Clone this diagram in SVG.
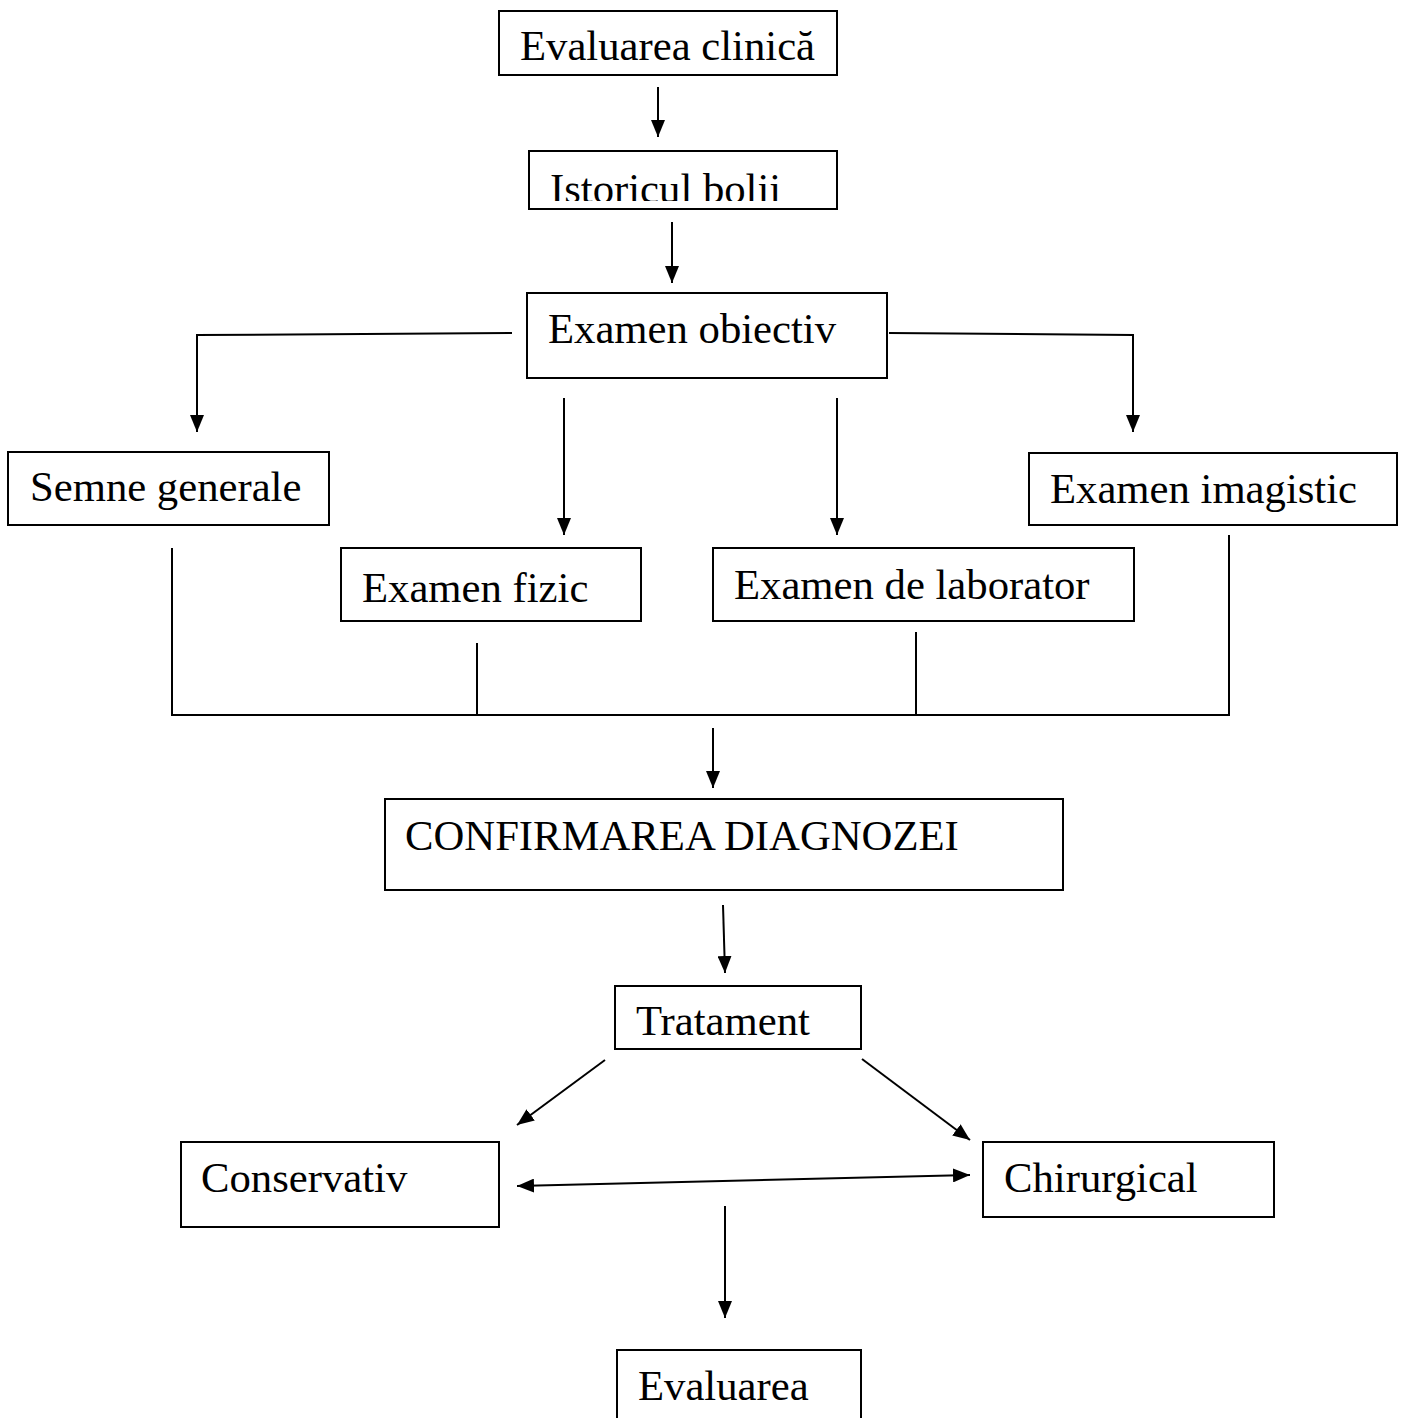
<svg xmlns="http://www.w3.org/2000/svg" width="1405" height="1418" viewBox="0 0 1405 1418">
<style>
.box{fill:#fff;stroke:#000;stroke-width:2}
.t{font-family:"Liberation Serif","Times New Roman",serif;font-size:42.7px;fill:#000}
.c{stroke:#000;stroke-width:2;fill:none}
</style>
<defs>
<marker id="ah" viewBox="0 0 17 14" refX="17" refY="7" markerWidth="17" markerHeight="14" markerUnits="userSpaceOnUse" orient="auto-start-reverse">
<path d="M0,0 L17,7 L0,14 z" fill="#000"/>
</marker>
<clipPath id="clipIst"><rect x="529" y="151" width="308" height="50"/></clipPath>
</defs>
<rect width="1405" height="1418" fill="#fff"/>
<g id="connectors">
<line class="c" x1="658" y1="87" x2="658" y2="137" marker-end="url(#ah)"/>
<line class="c" x1="672" y1="222" x2="672" y2="283" marker-end="url(#ah)"/>
<polyline class="c" points="512,333 197,335 197,432" marker-end="url(#ah)"/>
<polyline class="c" points="889,333 1133,335 1133,432" marker-end="url(#ah)"/>
<line class="c" x1="564" y1="398" x2="564" y2="535" marker-end="url(#ah)"/>
<line class="c" x1="837" y1="398" x2="837" y2="535" marker-end="url(#ah)"/>
<line class="c" x1="172" y1="548" x2="172" y2="715"/>
<line class="c" x1="477" y1="643" x2="477" y2="715"/>
<line class="c" x1="916" y1="632" x2="916" y2="715"/>
<line class="c" x1="1229" y1="535" x2="1229" y2="715"/>
<line class="c" x1="171" y1="715" x2="1230" y2="715"/>
<line class="c" x1="713" y1="728" x2="713" y2="788" marker-end="url(#ah)"/>
<line class="c" x1="723" y1="905" x2="725" y2="973" marker-end="url(#ah)"/>
<line class="c" x1="605" y1="1060" x2="517" y2="1125" marker-end="url(#ah)"/>
<line class="c" x1="862" y1="1059" x2="970" y2="1140" marker-end="url(#ah)"/>
<line class="c" x1="517" y1="1186" x2="970" y2="1175" marker-start="url(#ah)" marker-end="url(#ah)"/>
<line class="c" x1="725" y1="1206" x2="725" y2="1318" marker-end="url(#ah)"/>
</g>
<g id="n-evaluarea-clinica"><rect class="box" x="499" y="11" width="338" height="64"/><text class="t" x="520" y="60">Evaluarea clinică</text></g>
<g id="n-istoricul"><rect class="box" x="529" y="151" width="308" height="58"/><text class="t" x="550" y="203" clip-path="url(#clipIst)">Istoricul bolii</text></g>
<g id="n-examen-obiectiv"><rect class="box" x="527" y="293" width="360" height="85"/><text class="t" x="548" y="343">Examen obiectiv</text></g>
<g id="n-semne"><rect class="box" x="8" y="452" width="321" height="73"/><text class="t" x="30" y="501">Semne generale</text></g>
<g id="n-fizic"><rect class="box" x="341" y="548" width="300" height="73"/><text class="t" x="362" y="602">Examen fizic</text></g>
<g id="n-laborator"><rect class="box" x="713" y="548" width="421" height="73"/><text class="t" x="734" y="599">Examen de laborator</text></g>
<g id="n-imagistic"><rect class="box" x="1029" y="453" width="368" height="72"/><text class="t" x="1050" y="503">Examen imagistic</text></g>
<g id="n-confirmarea"><rect class="box" x="385" y="799" width="678" height="91"/><text class="t" x="405" y="850">CONFIRMAREA DIAGNOZEI</text></g>
<g id="n-tratament"><rect class="box" x="615" y="986" width="246" height="63"/><text class="t" x="636" y="1035">Tratament</text></g>
<g id="n-conservativ"><rect class="box" x="181" y="1142" width="318" height="85"/><text class="t" x="201" y="1192">Conservativ</text></g>
<g id="n-chirurgical"><rect class="box" x="983" y="1142" width="291" height="75"/><text class="t" x="1004" y="1192">Chirurgical</text></g>
<g id="n-evaluarea"><rect class="box" x="617" y="1350" width="244" height="80"/><text class="t" x="638" y="1400">Evaluarea</text></g>
</svg>
